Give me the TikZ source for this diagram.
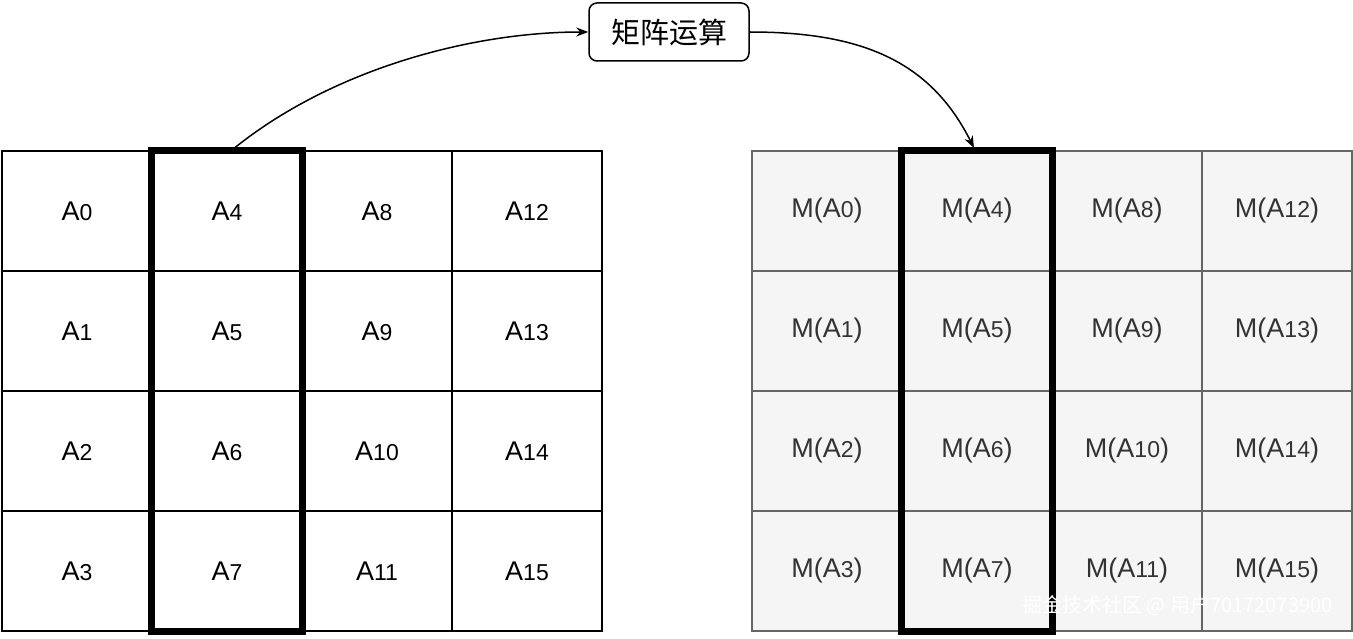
\documentclass[tikz,border=0pt]{standalone}
\usepackage{fontspec}
\setmainfont{Liberation Sans}
\newfontfamily\cjk{Noto Sans CJK SC}
\usetikzlibrary{arrows.meta}
\newcommand{\dg}[1]{{\fontsize{23}{26}\selectfont #1}}
\begin{document}
\begin{tikzpicture}[x=1pt,y=-1pt,
  lc/.style={draw=black,line width=1.5pt,minimum width=150pt,minimum height=120pt,inner sep=0pt,font=\fontsize{27}{30}\selectfont,text=black},
  rc/.style={draw=black!60,fill=black!4,line width=1.5pt,minimum width=150pt,minimum height=120pt,inner sep=0pt,font=\fontsize{27}{30}\selectfont,text=black!80},
  hl/.style={draw=black,line width=7pt},
  arr/.style={-{Stealth[length=12pt,width=9pt]},line width=1.5pt}]
\useasboundingbox (0,0) rectangle (1353,639);
\foreach \c in {0,...,3}{\foreach \r in {0,...,3}{
  \pgfmathtruncatemacro{\n}{\c*4+\r}
  \node[lc] (L\n) at (77+150*\c,211+120*\r) {A\dg{\n}};
  \node[rc] (R\n) at (827+150*\c,211+120*\r) {M(A\dg{\n})};
}}
\draw[hl] (151,151) rectangle (302,631);
\draw[hl] (901,151) rectangle (1052,631);
\node[draw,rounded corners=8pt,line width=1.5pt,minimum width=160pt,minimum height=58pt,font=\cjk\fontsize{29}{32}\selectfont] (op) at (669,32) {矩阵运算};
\coordinate (s) at (232,150);
\coordinate (e) at (974,148);
\draw[arr] (s) .. controls (330,70) and (470,32) .. (op.west);
\draw[arr] (op.east) .. controls (860,32) and (930,60) .. (e);
\node[anchor=east,text=white,font=\cjk\fontsize{20}{22}\selectfont] (wm) at (1336,606) {掘金技术社区 @ 用户70172073900};
\end{tikzpicture}
\end{document}
